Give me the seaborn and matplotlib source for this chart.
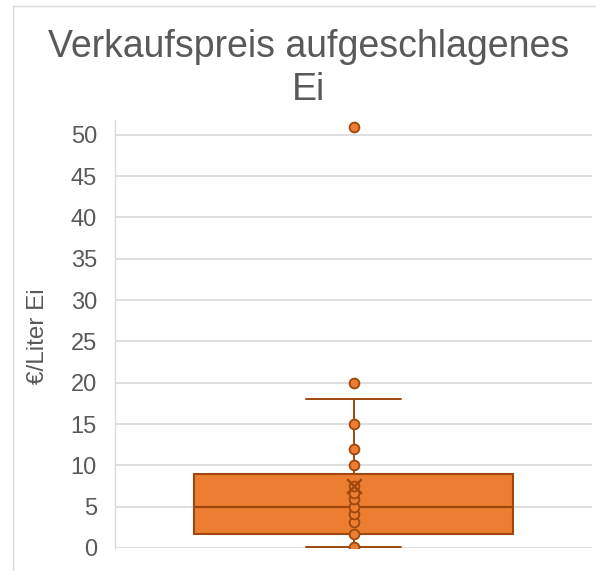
import numpy as np
import pandas as pd
import matplotlib
matplotlib.use("Agg")
import matplotlib.pyplot as plt
from matplotlib.lines import Line2D
import seaborn as sns

# values (EUR per litre of egg)
prices = [0.15, 1.75, 3.2, 4.1, 5.0, 5.9, 6.7, 7.5, 10, 12, 15, 20, 51]
q1, median, q3 = 1.75, 5.0, 9.0
whisker_low, whisker_high = 0.15, 18.0
mean_price = 7.45
y_ticks = list(range(0, 55, 5))

title = "Verkaufspreis aufgeschlagenes\nEi"
y_label = "€/Liter Ei"

ORANGE = "#ED7D31"
DARK = "#9E480E"
GRID = "#D9D9D9"
TEXT = "#595959"

sns.set_theme(style="white")
plt.rcParams["font.family"] = ["Liberation Sans", "DejaVu Sans"]

W, H = 596, 571
fig = plt.figure(figsize=(W / 100, H / 100), dpi=100)
ax = fig.add_axes([115 / W, 23 / H, 477 / W, 428 / H])

df = pd.DataFrame({"x": np.zeros(len(prices)), "price": prices})

stats = [dict(q1=q1, med=median, q3=q3, whislo=whisker_low,
              whishi=whisker_high, mean=mean_price, fliers=[])]
ax.bxp(stats, positions=[0], widths=0.667, capwidths=[0.2],
       patch_artist=True, showfliers=False, showmeans=False,
       boxprops=dict(facecolor=ORANGE, edgecolor=DARK, linewidth=1.5),
       medianprops=dict(color=DARK, linewidth=1.6),
       whiskerprops=dict(color=DARK, linewidth=1.4),
       capprops=dict(color=DARK, linewidth=1.4),
       zorder=2)

sns.scatterplot(data=df, x="x", y="price", ax=ax, s=50, color=ORANGE,
                edgecolor=DARK, linewidth=1.3, zorder=3, legend=False)
sns.scatterplot(x=[0], y=[mean_price], ax=ax, marker="x", s=110,
                color=DARK, linewidth=1.8, zorder=4, legend=False)

ax.set_xlim(-0.5, 0.5)
ax.set_ylim(0, 51.8)
ax.set_yticks(y_ticks)
ax.set_xticks([])
ax.set_xlabel("")
ax.set_ylabel("")
ax.tick_params(axis="y", length=0, pad=13, labelsize=17, labelcolor=TEXT)
ax.yaxis.grid(True, color=GRID, linewidth=1.2)
ax.set_axisbelow(True)
for side in ["top", "right", "bottom"]:
    ax.spines[side].set_visible(False)
ax.spines["left"].set_color(GRID)
ax.spines["left"].set_linewidth(1.0)

fig.text(309 / W, 1 - 29 / H, title, ha="center", va="top",
         fontsize=27, color=TEXT, linespacing=1.25)
fig.text(38 / W, 1 - 336 / H, y_label, rotation=90, ha="center",
         va="center", fontsize=17.5, color=TEXT)

# chart area border (left and top edges are visible)
fig.add_artist(Line2D([12.5 / W, 12.5 / W], [0, 1 - 5.5 / H],
                      transform=fig.transFigure, color=GRID, lw=1))
fig.add_artist(Line2D([12.5 / W, 1], [1 - 5.5 / H, 1 - 5.5 / H],
                      transform=fig.transFigure, color=GRID, lw=1))

fig.savefig("out.png", dpi=100)
